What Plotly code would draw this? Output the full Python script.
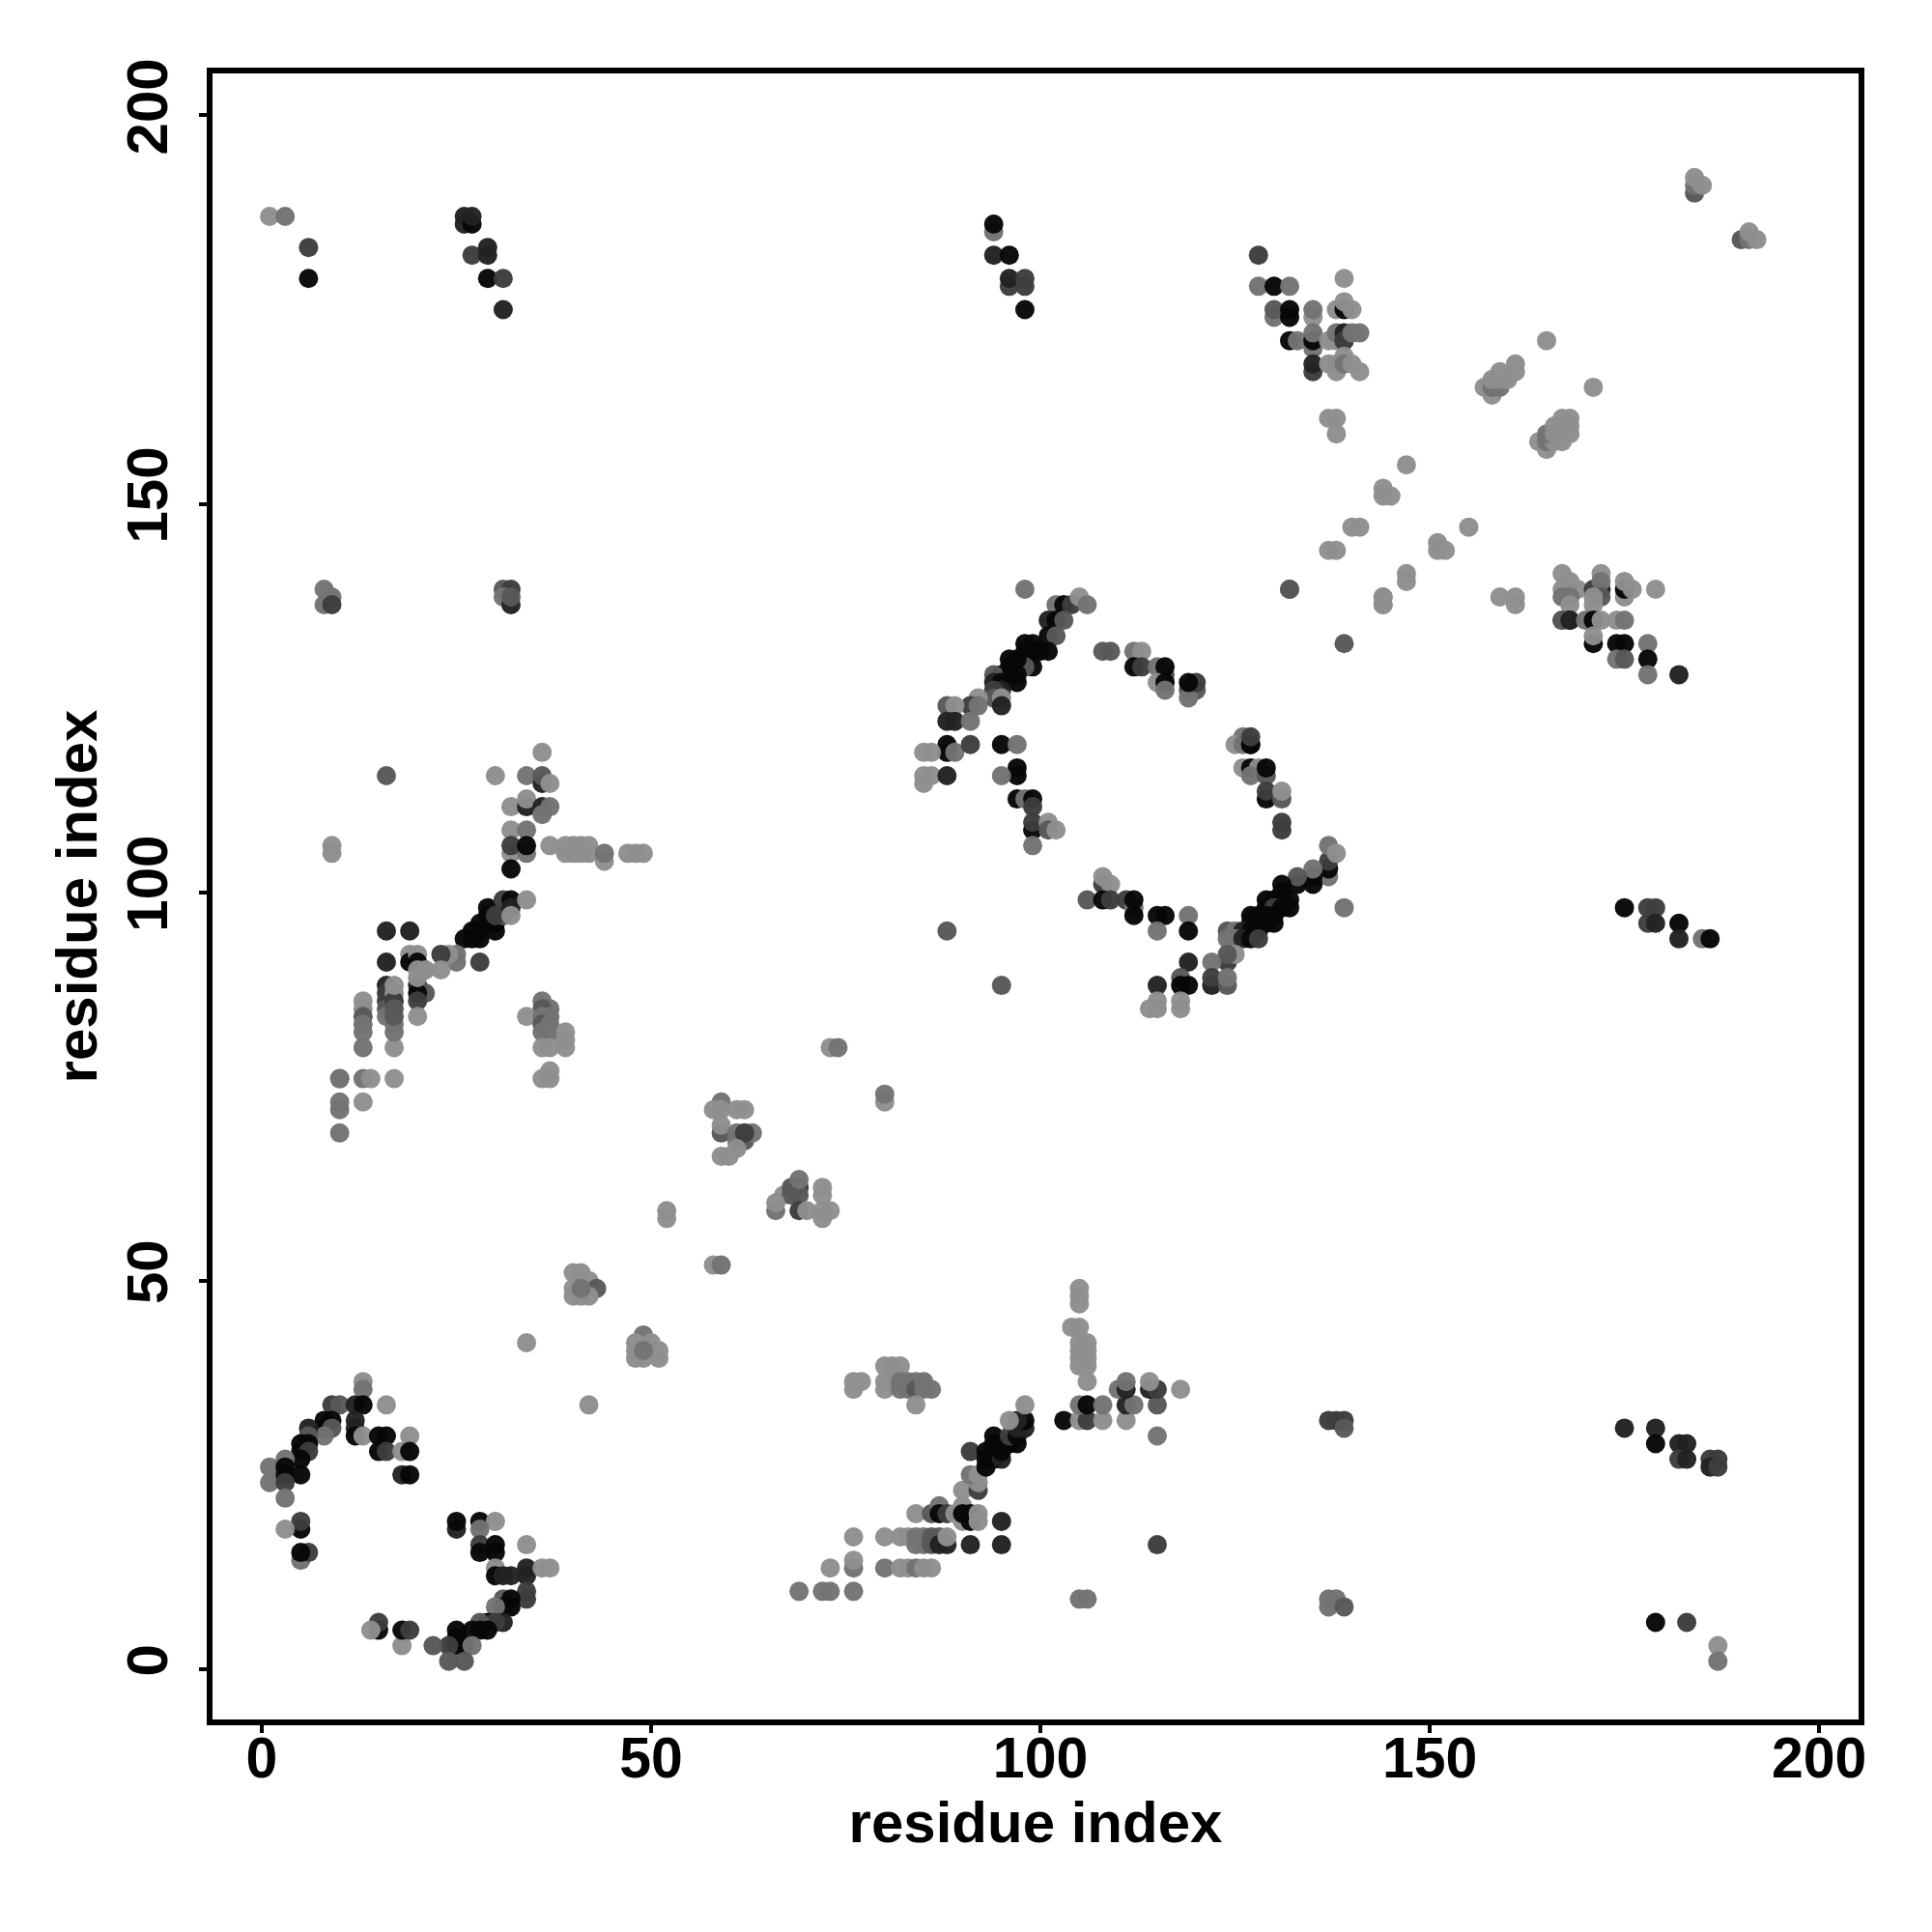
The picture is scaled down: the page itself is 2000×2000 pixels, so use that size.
import plotly.graph_objects as go

# score: 0 = weakest contact (light grey) ... 5 = strongest contact (near black)
sw_arc_x = [13,13,9,10,12,13,16,8,9,12,8,9,8,6,6,12,12,13,15,16,19,5,6,5,6,15,16,18,19,5,3,1,3,1,3,5,3,3,18,19]
sw_arc_y = [37,36,34,34,34,34,34,32,32,32,31,31,30,31,30,31,30,30,30,30,30,29,29,28,28,28,28,28,28,27,27,26,26,24,25,25,24,22,25,25]
sw_arc_s = [0,1,3,2,4,5,0,5,5,4,5,2,1,4,2,4,5,0,5,5,0,5,5,5,3,5,3,0,5,5,1,1,5,1,5,5,3,1,4,5]

sw_low_x = [5,5,3,5,6,5,25,25,28,30,28,28,30,28,30,34,30,30,31,32,34,34,36,37,34,34,31,32,32,31,30,31,29,30,28,29,28,27,25,25,25,26,24,27,22,24,26,18,15,15,14,18,19]
sw_low_y = [18,19,18,14,15,15,18,19,19,19,18,16,16,15,15,16,13,12,12,12,12,13,13,13,10,9,9,9,8,8,8,6,6,6,6,5,5,5,5,4,3,3,3,3,3,1,1,3,5,6,5,5,5]
sw_low_s = [5,3,0,1,3,5,4,5,5,0,1,3,5,5,5,0,0,5,4,4,4,4,0,0,3,3,2,5,5,5,1,4,5,3,2,5,5,5,5,5,5,5,3,1,2,2,2,0,5,3,0,5,3]

helix_a_x = [40,41,42,43,40,40,41,42,41,34,42,49,48,50,48,51,48,49,51,49]
helix_a_y = [51,51,50,49,49,48,48,48,49,42,34,43,42,42,41,41,40,40,40,41]
helix_a_s = [0,0,0,2,0,0,0,0,1,0,0,1,0,0,0,0,0,0,0,1]

s_mid_x = [69,72,73,76,73,76,76,76,80,82,83,84,85,86,80,82,83,84,84,85,85,86,86,87,87,88,88,91,95,95]
s_mid_y = [10,10,10,10,13,13,14,17,13,13,13,13,13,13,17,17,17,17,16,17,16,17,16,17,16,16,17,16,16,19]
s_mid_s = [1,1,1,1,0,1,0,0,1,0,0,1,0,0,0,0,0,1,1,1,1,2,2,2,4,4,0,4,4,4]

s_diag_x = [84,86,87,87,88,89,90,90,90,91,91,92,92,90,92,92,91,92,91,93,93,93,94,94,95,95,94,94,95,96,97,96,97,97,98,98,97,96,98]
s_diag_y = [20,20,21,20,20,20,21,19,20,20,19,20,19,23,23,24,25,25,28,26,27,28,27,28,27,28,29,30,29,29,29,30,30,31,31,32,32,32,34]
s_diag_s = [0,2,1,5,3,0,0,0,5,5,5,0,0,0,3,0,1,0,3,5,5,5,5,5,4,5,5,5,5,5,5,3,5,4,4,5,4,0,0]

s_right_x = [103,105,106,108,111,105,106,108,111,112,115,115,115,110,111,111,114,115,114,118,106,105,105,105,104,105,105,106,105,106,105,106,105,106,105,106]
s_right_y = [32,32,32,32,32,34,34,34,34,34,34,30,16,36,36,37,36,36,37,36,37,49,48,47,44,44,42,42,41,41,40,40,39,39,9,9]
s_right_s = [5,0,3,0,0,1,5,1,4,1,2,1,3,1,4,1,4,3,0,0,0,0,0,0,0,0,0,0,0,0,0,0,0,0,1,1]

s_left_x = [76,77,76,80,81,82,80,80,81,82,82,83,83,84,84,85,85,86,84]
s_left_y = [37,37,36,39,39,39,37,36,37,37,36,37,36,37,36,37,36,36,34]
s_left_s = [0,0,0,0,0,0,0,0,0,1,1,1,1,1,2,1,1,1,0]

corner_x = [137,138,139,139,137,137,138,139,175,179,179,182,183,182,183,186,187,186,187,179,183,187,187]
corner_y = [32,32,32,31,9,8,9,8,31,31,29,29,29,27,27,27,27,26,26,6,6,3,1]
corner_s = [3,3,3,2,1,1,1,2,4,4,5,4,4,3,4,3,3,4,3,5,3,0,1]

w_low_x = [10,10,13,14,17,10,10,13,10]
w_low_y = [76,76,76,76,76,72,73,73,69]
w_low_s = [1,1,1,0,0,1,1,0,1]

w_mid_x = [13,13,13,13,13,13,17,16,17,16,17,16,17,16,17,16,17,17,17,16,16,19,19,21,20,21,20,20,20,19,20,20,20,20]
w_mid_y = [86,85,84,83,82,80,80,88,83,87,82,86,87,85,86,84,88,85,84,91,95,95,92,90,88,87,87,86,84,91,92,91,90,89]
w_mid_s = [0,0,2,1,1,1,0,4,1,3,1,3,0,2,3,1,0,2,2,4,4,4,0,0,4,2,5,3,0,5,0,5,0,0]

w_diag_x = [26,27,27,28,28,29,29,28,30,30,29,31,30,31,32,32,32,34,28,25,25,24,23,23,21]
w_diag_y = [94,94,95,94,95,96,97,96,95,96,98,97,97,99,99,98,97,99,91,92,91,92,92,90,90]
w_diag_s = [5,5,5,5,5,5,5,5,5,5,5,2,3,3,5,4,0,0,3,1,1,0,3,0,0]

w_top_x = [36,16,30,34,36,36,37,32,34,34,36,37,36,32,34,32,34,32,34,32,37,39,39,40,40,41,41,42,42,44,44,47,48,49,9,9]
w_top_y = [118,115,115,115,114,115,114,111,111,112,111,111,110,108,108,105,105,106,106,103,106,106,105,106,105,106,105,106,105,104,105,105,105,105,106,105]
w_top_s = [0,2,0,1,4,2,0,0,4,0,4,1,1,0,1,0,1,3,5,5,0,0,0,0,0,0,0,0,0,0,1,0,0,0,0,0]

w_right_x = [36,37,36,34,36,37,36,37,36,37,39,36,37,39,39,37,36,37]
w_right_y = [86,85,85,84,84,84,83,83,82,82,82,80,80,80,81,77,76,76]
w_right_s = [1,1,2,0,1,1,2,1,1,1,0,0,0,0,0,0,0,0]

nw_x = [1,3,6,6,26,26,27,27,27,29,29,29,31,31]
nw_y = [187,187,183,179,186,187,186,187,182,182,183,179,179,175]
nw_s = [0,1,3,5,4,4,5,4,3,4,4,5,3,4]
nw_mid_x = [8,8,9,9,31,32,31,32,32]
nw_mid_y = [137,139,138,137,139,139,138,137,138]
nw_mid_s = [1,1,1,3,2,3,1,4,2]

n_mid_x = [94,94,94,96,96,96,98,98,98]
n_mid_y = [185,186,182,182,178,179,178,179,175]
n_mid_s = [1,5,4,5,3,4,3,3,5]

ring_nw_x = [98,132,102,103,104,105,106,101,102,103,101,102,101,98,99,100,99,98,99,98,97,96,97,96,97,96,95,94,94,95,95,94,94,95,95,92,91,92,88,89,88,89,91]
ring_nw_y = [139,139,137,137,137,138,137,135,135,135,133,133,131,132,132,131,131,131,129,129,130,130,127,129,128,128,128,128,127,127,126,126,125,125,124,125,124,124,124,124,122,122,122]
ring_nw_s = [1,2,1,5,3,0,1,4,5,2,5,2,5,5,5,5,5,5,5,2,5,5,5,5,5,5,5,2,4,5,4,3,2,0,4,0,3,1,2,0,4,4,1]

ring_w_x = [88,88,89,91,95,97,85,86,85,86,85,88,97,97,95,97,98,99,99,99,99,101,101,102,99]
ring_w_y = [118,119,118,119,119,119,118,118,114,115,115,115,116,115,115,112,112,112,111,108,109,109,108,108,106]
ring_w_s = [5,5,1,3,5,1,0,0,0,0,0,4,5,5,1,5,1,5,3,5,3,0,2,0,1]

ring_n_x = [108,109,112,113,112,113,115,116,116,115,116,116,119,120,119,120,119]
ring_n_y = [131,131,131,131,129,129,129,128,129,127,127,126,126,126,125,127,127]
ring_n_s = [2,2,1,0,5,3,1,2,5,0,5,1,2,2,1,3,5]

ring_e_x = [126,125,126,127,127,127,126,127,128,127,129,129,129,129,131,131,131,131]
ring_e_y = [120,119,119,119,119,120,116,116,116,115,115,116,112,113,112,113,108,109]
ring_e_s = [1,0,1,5,5,3,0,5,0,1,2,5,5,3,2,0,3,3]

ring_se_x = [137,137,135,137,135,135,133,133,131,131,129,130,131,132,132,129,130,131,127,128,129,130,130,127,128,129,124,125,126,127,128,124,125,126,127,128,139,137,138]
ring_se_y = [102,103,101,104,102,103,101,102,101,100,99,99,99,99,98,98,98,98,97,97,97,97,96,96,96,96,95,95,95,95,95,94,94,94,94,94,98,106,105]
ring_se_s = [1,5,5,3,5,1,5,2,5,5,5,5,5,5,5,5,3,5,5,5,5,5,5,5,5,5,2,1,4,5,5,1,1,4,5,3,1,1,0]

ring_s_x = [124,125,124,122,119,122,122,124,124,118,119,118,115,115,114,115,118,118,88,95]
ring_s_y = [91,92,92,91,91,88,89,88,89,89,88,88,88,86,85,85,86,85,95,88]
ring_s_s = [3,0,2,1,4,4,3,2,1,2,5,5,4,0,0,0,0,0,2,2]

ring_low_x = [106,108,108,109,108,109,111,112,112,112,115,116,115,119,119]
ring_low_y = [99,101,102,101,99,99,99,98,97,99,97,97,95,97,95]
ring_low_s = [2,3,0,0,5,3,3,1,5,5,5,5,1,1,5]

e_dots_x = [175,178,179,178,179,182,182,185,186]
e_dots_y = [98,98,98,96,96,96,94,94,94]
e_dots_s = [5,3,3,3,4,5,4,1,5]

d_low_x = [52,52,58,59,59,58,59,61,62,59,59,61,62,63,61,62,61,59,60,67,68,69,68,69,69,66,66,69,70,72,72,72,73,72,73,74,80,80]
d_low_y = [59,58,52,52,73,72,72,72,72,69,70,68,68,69,69,69,67,66,66,61,62,62,61,61,63,59,60,59,59,61,62,59,59,58,80,80,73,74]
d_low_s = [0,0,0,1,1,0,0,0,0,2,0,1,2,1,1,3,0,0,0,0,2,3,2,2,1,1,0,3,0,0,0,0,0,0,0,1,0,1]

ne_a_x = [128,128,130,132,139,130,130,132,132,135,135,138,139,139,140,132,133,135,135,135,137,138,138,139,139,139,140,141]
ne_a_y = [182,178,178,178,179,174,175,174,175,174,175,175,175,176,175,171,171,170,171,172,171,171,172,171,172,171,172,172]
ne_a_s = [3,1,5,1,0,1,2,5,5,0,1,0,5,0,0,5,1,1,5,1,0,0,1,3,4,3,1,1]
ne_b_x = [135,135,137,138,138,139,139,140,141,137,138,138,147,144,144,145,140,141,137,138,155,151,151,152,147,147,144,144,132,139]
ne_b_y = [167,168,168,168,167,169,168,168,167,161,161,159,155,152,151,151,147,147,144,144,147,145,144,144,141,140,138,137,139,132]
ne_b_s = [3,4,0,0,0,0,1,0,0,0,0,0,0,0,0,0,0,0,0,0,0,0,0,0,0,0,0,0,2,2]

knot_x = [158,157,158,159,158,159,160,159,161,161,165,171,165,164,165,166,167,165,166,167,168,166,167,168,167,168]
knot_y = [164,165,165,165,166,166,166,167,168,167,171,165,157,158,158,158,158,159,159,159,159,160,160,160,161,161]
knot_s = [0,0,1,1,0,0,0,0,0,0,0,0,0,0,1,0,0,1,0,0,0,0,0,0,0,0]

se_x = [144,144,159,161,161,167,167,168,167,169,168,168,167,168,171,172,172,172,172,171,171,175,175,175,176,179,167,168,170,171,172,174,175,171,171,174,175,178,174,175,178,178,182]
se_y = [138,137,138,138,137,141,139,140,138,139,138,137,135,135,139,139,141,140,138,138,137,138,139,140,139,139,135,135,135,135,135,135,135,132,133,132,132,132,130,130,130,128,128]
se_s = [0,0,0,0,0,0,0,0,1,0,1,0,2,4,3,4,0,1,2,0,0,0,5,0,0,0,2,4,1,5,0,0,1,5,0,5,5,1,1,2,5,1,4]

ne_end_x = [184,184,184,185,190,191,192,191]
ne_end_y = [190,191,192,191,184,184,184,185]
ne_end_s = [2,1,0,0,2,1,0,0]

x_groups = [sw_arc_x, sw_low_x, helix_a_x, s_mid_x, s_diag_x, s_right_x, s_left_x, corner_x, w_low_x, w_mid_x,
            w_diag_x, w_top_x, w_right_x, nw_x, nw_mid_x, n_mid_x, ring_nw_x, ring_w_x, ring_n_x, ring_e_x,
            ring_se_x, ring_s_x, ring_low_x, e_dots_x, d_low_x, ne_a_x, ne_b_x, knot_x, se_x, ne_end_x]
y_groups = [sw_arc_y, sw_low_y, helix_a_y, s_mid_y, s_diag_y, s_right_y, s_left_y, corner_y, w_low_y, w_mid_y,
            w_diag_y, w_top_y, w_right_y, nw_y, nw_mid_y, n_mid_y, ring_nw_y, ring_w_y, ring_n_y, ring_e_y,
            ring_se_y, ring_s_y, ring_low_y, e_dots_y, d_low_y, ne_a_y, ne_b_y, knot_y, se_y, ne_end_y]
s_groups = [sw_arc_s, sw_low_s, helix_a_s, s_mid_s, s_diag_s, s_right_s, s_left_s, corner_s, w_low_s, w_mid_s,
            w_diag_s, w_top_s, w_right_s, nw_s, nw_mid_s, n_mid_s, ring_nw_s, ring_w_s, ring_n_s, ring_e_s,
            ring_se_s, ring_s_s, ring_low_s, e_dots_s, d_low_s, ne_a_s, ne_b_s, knot_s, se_s, ne_end_s]

xs, ys, ss = [], [], []
for gx, gy, gs in zip(x_groups, y_groups, s_groups, strict=True):
    for a, b, c in zip(gx, gy, gs, strict=True):
        xs.append(a); ys.append(b); ss.append(c)

tick_vals = [0, 50, 100, 150, 200]
axis_title = "residue index"

fig = go.Figure(go.Scatter(
    x=xs, y=ys, mode="markers", cliponaxis=True,
    marker=dict(size=20, color=ss, cmin=0, cmax=5, opacity=0.97, line=dict(width=0),
                colorscale=[[0, "#8e8e8e"], [1, "#070707"]], showscale=False),
))
FONT = "Liberation Sans"
axis = dict(showgrid=False, zeroline=False, showline=True, mirror=True, linecolor="black", linewidth=6,
            ticks="outside", ticklen=8, tickwidth=4, tickcolor="black", tickvals=tick_vals, automargin=False)
title_font = dict(family=FONT, size=60, color="black", weight="bold")
fig.update_xaxes(axis, range=[-6.33, 205.07], ticklabelstandoff=-25,
                 tickfont=dict(family=FONT, size=59, color="black", weight="bold"),
                 title=dict(text=axis_title, standoff=9, font=title_font))
fig.update_yaxes(axis, range=[-6.5, 205.4], tickangle=-90, ticklabelstandoff=9,
                 tickfont=dict(family=FONT, size=60, color="black", weight="bold"),
                 title=dict(text=axis_title, standoff=1, font=title_font))
fig.update_layout(width=1990, height=1990, autosize=False, showlegend=False,
                  plot_bgcolor="white", paper_bgcolor="white",
                  margin=dict(l=212, r=74, t=68, b=218, pad=0))
fig.write_html("out.html")
